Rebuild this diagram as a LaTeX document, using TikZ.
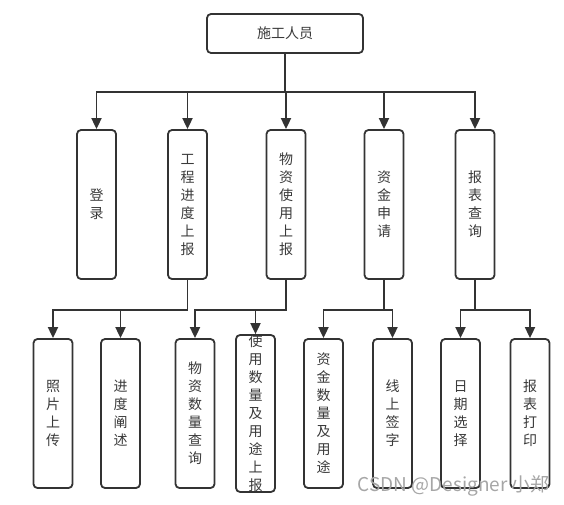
\documentclass[tikz,border=0pt]{standalone}
\usepackage{fontspec}
\setmainfont{Noto Sans CJK SC}
\usetikzlibrary{arrows.meta}
\definecolor{ln}{HTML}{333333}
\definecolor{tx}{HTML}{3A3A3A}
\tikzset{
  box/.style={draw=ln, line width=1.8pt, rounded corners=4pt, fill=white,
    text=tx, inner sep=0pt, font=\fontsize{14}{18}\selectfont, align=center},
  vbox/.style={box, minimum width=39pt, minimum height=149pt},
  arr/.style={draw=ln, line width=1.8pt, -{Triangle[width=10pt,length=11pt]}},
  ln/.style={draw=ln, line width=1.8pt}
}
\begin{document}
\begin{tikzpicture}[x=1pt,y=1pt]
\useasboundingbox (0,0) rectangle (564,-505);
\node[box, minimum width=156pt, minimum height=39pt] (top) at (285,-33.5) {施工人员};
% second level
\node[vbox] (l1) at (96.5,-204.5) {登\\录};
\node[vbox] (l2) at (187.5,-204.5) {工\\程\\进\\度\\上\\报};
\node[vbox] (l3) at (286,-204.5) {物\\资\\使\\用\\上\\报};
\node[vbox] (l4) at (384,-204.5) {资\\金\\申\\请};
\node[vbox] (l5) at (475,-204.5) {报\\表\\查\\询};
% third level
\node[vbox] (a) at (53,-413.5) {照\\片\\上\\传};
\node[vbox] (b) at (120.5,-413.5) {进\\度\\阐\\述};
\node[vbox] (c) at (195,-413.5) {物\\资\\数\\量\\查\\询};
\node[vbox] (d) at (255.5,-413.5) {使\\用\\数\\量\\及\\用\\途\\上\\报};
\node[vbox] (e) at (323.5,-413.5) {资\\金\\数\\量\\及\\用\\途};
\node[vbox] (f) at (392.5,-413.5) {线\\上\\签\\字};
\node[vbox] (g) at (460.5,-413.5) {日\\期\\选\\择};
\node[vbox] (h) at (530,-413.5) {报\\表\\打\\印};
% connectors level 1
\foreach \n in {l1,l2,l3,l4,l5}
  \draw[arr] (top.south) -- ++(0,-38.5) -| (\n.north);
% connectors level 2
\foreach \p/\c in {l2/a,l2/b,l3/c,l3/d,l4/e,l4/f,l5/g,l5/h}
  \draw[arr] (\p.south) -- ++(0,-30) -| (\c.north);
% watermark
\node[text=black!35, font=\fontsize{19}{20}\selectfont, inner sep=0pt, anchor=east] (wm) at (550,-486) {CSDN @Designer 小郑};
\end{tikzpicture}
\end{document}
